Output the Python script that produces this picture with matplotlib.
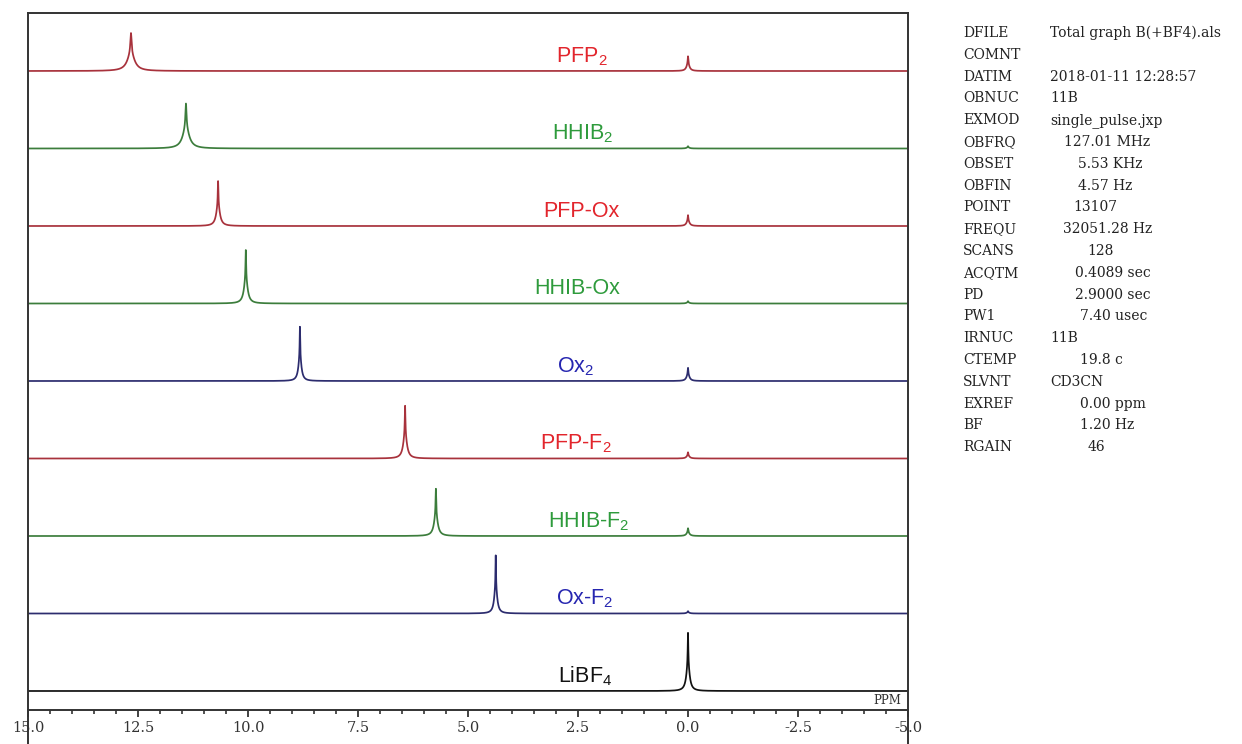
import numpy as np
import matplotlib
matplotlib.use("Agg")
import matplotlib.pyplot as plt

# samples, top to bottom
samples = ["PFP$_\\mathregular{2}$", "HHIB$_\\mathregular{2}$", "PFP-Ox", "HHIB-Ox", "Ox$_\\mathregular{2}$",
           "PFP-F$_\\mathregular{2}$", "HHIB-F$_\\mathregular{2}$", "Ox-F$_\\mathregular{2}$", "LiBF$_\\mathregular{4}$"]
peak_ppm = [12.66, 11.41, 10.68, 10.05, 8.82, 6.43, 5.73, 4.37, 0.0]
peak_height = [0.49, 0.58, 0.58, 0.69, 0.70, 0.68, 0.61, 0.75, 0.75]
peak_width = [0.10, 0.09, 0.05, 0.05, 0.04, 0.05, 0.05, 0.04, 0.045]
ref_height = [0.19, 0.03, 0.14, 0.03, 0.17, 0.08, 0.10, 0.03, 0.0]   # small peak at 0.0 ppm
label_ppm = [2.41, 2.39, 2.43, 2.52, 2.55, 2.55, 2.25, 2.34, 2.34]

line_colors = ["#a8323c", "#3c7d3c", "#a8323c", "#3c7d3c", "#2c2c6e",
               "#a8323c", "#3c7d3c", "#2c2c6e", "#111111"]
label_colors = ["#e2252c", "#2e9b3c", "#e2252c", "#2e9b3c", "#2626b0",
                "#e2252c", "#2e9b3c", "#2626b0", "#111111"]

xticks = [15.0, 12.5, 10.0, 7.5, 5.0, 2.5, 0.0, -2.5, -5.0]

params = [("DFILE", "Total graph B(+BF4).als"), ("COMNT", ""), ("DATIM", "2018-01-11 12:28:57"),
          ("OBNUC", "11B"), ("EXMOD", "single_pulse.jxp"), ("OBFRQ", "127.01 MHz"),
          ("OBSET", "5.53 KHz"), ("OBFIN", "4.57 Hz"), ("POINT", "13107"), ("FREQU", "32051.28 Hz"),
          ("SCANS", "128"), ("ACQTM", "0.4089 sec"), ("PD", "2.9000 sec"), ("PW1", "7.40 usec"),
          ("IRNUC", "11B"), ("CTEMP", "19.8 c"), ("SLVNT", "CD3CN"), ("EXREF", "0.00 ppm"),
          ("BF", "1.20 Hz"), ("RGAIN", "46")]
value_x = [1050, 1050, 1050, 1050, 1050, 1064, 1078, 1078, 1073, 1063,
           1087, 1075, 1075, 1080, 1050, 1080, 1050, 1080, 1080, 1088]

W, H = 1242, 744
fig = plt.figure(figsize=(W / 100, H / 100), dpi=100)
ax = fig.add_axes([28 / W, (H - 710) / H, 880 / W, 697 / H])

x = np.linspace(15, -5, 40001)


def lor(x0, w):
    return 1.0 / (1.0 + ((x - x0) / w) ** 2)


n = len(samples)
for i in range(n):
    base = n - 1 - i
    y = peak_height[i] * (0.45 * lor(peak_ppm[i], peak_width[i]) + 0.55 * lor(peak_ppm[i], peak_width[i] / 6))
    if ref_height[i] > 0:
        y = y + ref_height[i] * (0.5 * lor(0.0, 0.04) + 0.5 * lor(0.0, 0.008))
    ax.plot(x, base + y, color=line_colors[i], lw=1.25, solid_joinstyle="round")
    ax.text(label_ppm[i], base + 0.19, samples[i], color=label_colors[i], fontsize=15.5,
            family="Liberation Sans", ha="center", va="center")

ax.set_xlim(15, -5)
ax.set_ylim(-19 / 77.5, 8 + 58 / 77.5)
ax.set_yticks([])
ax.set_xticks(xticks)
ax.set_xticklabels(["%.1f" % v for v in xticks], family="DejaVu Serif", fontsize=10.5, color="#333333")
ax.set_xticks(np.arange(-5, 15.01, 0.5), minor=True)
ax.tick_params(axis="x", which="major", direction="out", length=5, width=1.3, pad=3, color="#333333")
ax.tick_params(axis="x", which="minor", direction="out", length=3, width=1.2, color="#333333")
for s in ax.spines.values():
    s.set_color("#333333")
    s.set_linewidth(1.4)

# side lines running down through the end labels
ax.plot([0, 0], [0, -34 / 697], transform=ax.transAxes, color="#333333", lw=1.4, clip_on=False)
ax.plot([1, 1], [0, -34 / 697], transform=ax.transAxes, color="#333333", lw=1.4, clip_on=False)

ax.text(0.992, 10 / 697, "PPM", transform=ax.transAxes, ha="right", va="center",
        family="DejaVu Serif", fontsize=8.5, color="#333333")

for k, (name, val) in enumerate(params):
    ypix = 33 + k * 21.8
    fig.text(963 / W, 1 - ypix / H, name, family="DejaVu Serif", fontsize=10, color="#222222", va="center")
    if val:
        fig.text(value_x[k] / W, 1 - ypix / H, val, family="DejaVu Serif", fontsize=10,
                 color="#222222", va="center")

fig.savefig("out.png", dpi=100)
